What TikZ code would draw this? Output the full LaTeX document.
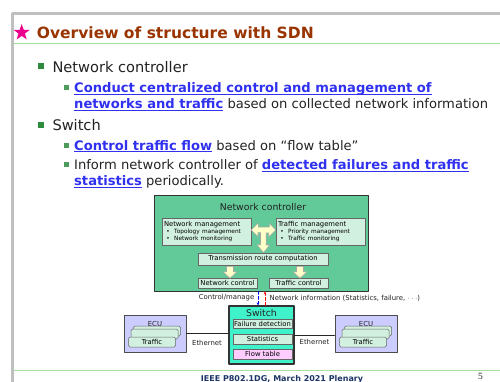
\documentclass[tikz,border=0pt]{standalone}
\usepackage{fontspec}
\setmainfont{DejaVu Sans}
\newfontfamily\pagenumfont{Liberation Serif}
\usepackage{xcolor}
\usetikzlibrary{arrows.meta,positioning,calc,shapes.geometric}
\definecolor{titlebrown}{HTML}{993300}
\definecolor{linkblue}{HTML}{3030F0}
\definecolor{bulletgreen}{HTML}{2E8B3E}
\definecolor{framegray}{HTML}{BFBFBF}
\definecolor{rulegreen}{HTML}{A6DDA0}
\definecolor{ctrlgreen}{HTML}{62CA98}
\definecolor{palegreen}{HTML}{D2F0E0}
\definecolor{switchcyan}{HTML}{40F2CA}
\definecolor{flowpink}{HTML}{FFCCFF}
\definecolor{ecublue}{HTML}{CCCCFF}
\definecolor{fatyellow}{HTML}{FFFFC8}
\definecolor{footnavy}{HTML}{1C3466}
\definecolor{ink}{HTML}{222222}
\newcommand{\lnk}[1]{\textcolor{linkblue}{\bfseries\setbox0\hbox{#1}\rlap{\rule[-2.2pt]{\wd0}{0.9pt}}\box0}}
\tikzset{
    every picture/.style={line cap=round,line join=round},
    l1bullet/.style={fill=bulletgreen,minimum size=6pt,inner sep=0pt},
    l2bullet/.style={fill=bulletgreen!85,minimum size=5pt,inner sep=0pt},
    l1text/.style={anchor=base west,inner sep=0pt,text=ink,
      font=\fontsize{14.6}{17}\selectfont},
    l2text/.style={anchor=base west,inner sep=0pt,text=ink,
      font=\fontsize{13.1}{16}\selectfont},
    ctrlbox/.style={draw=black!80,fill=ctrlgreen,line width=0.8pt,
      minimum width=214pt,minimum height=96pt,inner sep=0pt},
    subbox/.style={draw=black!60,fill=palegreen,line width=0.6pt,
      inner sep=0pt,font=\fontsize{6.8}{7}\selectfont},
    mgmtbox/.style={subbox,minimum width=89pt,minimum height=27pt,
      text width=85pt,align=left},
    swbox/.style={draw=black!80,fill=switchcyan,line width=1.2pt,
      minimum width=65pt,minimum height=58pt,inner sep=0pt},
    ecubox/.style={draw=black!70,fill=ecublue,line width=1pt,
      minimum width=62pt,minimum height=37pt,inner sep=0pt},
    docbox/.style={draw=black!60,fill=palegreen,line width=0.5pt,
      rounded corners=1.5pt,minimum width=47pt,minimum height=10pt,
      inner sep=0pt,font=\fontsize{6.8}{7}\selectfont},
    fatarrow/.style={draw=black!35,fill=fatyellow,line width=0.6pt},
    smalllabel/.style={inner sep=0pt,text=ink,font=\fontsize{6.9}{7}\selectfont},
    downlink/.style={-{Stealth[length=3pt,width=2.6pt]},draw=blue,
      line width=0.7pt,densely dashed},
    uplink/.style={-{Stealth[length=3pt,width=2.6pt]},draw=red,
      line width=0.7pt,densely dashed},
    ethline/.style={draw=black!85,line width=0.9pt},
    pics/fatdown/.style={code={
      \draw[fatarrow] (-3.5,0) -- (3.5,0) -- (3.5,5.5) -- (7,5.5) -- (0,12)
        -- (-7,5.5) -- (-3.5,5.5) -- cycle;}}
}
\begin{document}
\begin{tikzpicture}[x=1pt,y=-1pt]
    \useasboundingbox (0,0) rectangle (500,382);
    \draw[framegray,line width=3pt,line cap=butt] (12.5,382) -- (12.5,13.5) -- (500,13.5);
    \draw[rulegreen,line width=1pt,line cap=butt] (14,43.3) -- (500,43.3);
    \draw[rulegreen,line width=1pt,line cap=butt] (14,370) -- (500,370);
    \node[star,star points=5,star point ratio=2.5,fill=magenta,
      minimum size=17pt,inner sep=0pt] (star) at (21.7,32.5) {};
    \node[anchor=base west,inner sep=0pt,text=titlebrown,
      font=\fontsize{15.5}{18}\selectfont\bfseries] (title) at (36.7,39) {Overview of structure with SDN};
    \node[l1bullet] (b1) at (40.5,66.5) {};
    \node[l1text] (t1) at (52.3,72.5) {Network controller};
    \node[l2bullet] (b11) at (66,87.5) {};
    \node[l2text] (t11a) at (74,92.3) {\lnk{Conduct centralized control and management of}};
    \node[l2text] (t11b) at (74,108.3) {\lnk{networks and traffic} based on collected network information};
    \node[l1bullet] (b2) at (40.5,125) {};
    \node[l1text] (t2) at (52.3,130.7) {Switch};
    \node[l2bullet] (b21) at (66,145.5) {};
    \node[l2text] (t21) at (74,150) {\lnk{Control traffic flow} based on “flow table”};
    \node[l2bullet] (b22) at (66,165) {};
    \node[l2text] (t22a) at (74,170) {Inform network controller of \lnk{detected failures and traffic}};
    \node[l2text] (t22b) at (74,185.5) {\lnk{statistics} periodically.};
    \node[ctrlbox] (nc) at (261,243) {};
    \node[inner sep=0pt,text=ink,font=\fontsize{9.3}{10}\selectfont] (nctitle) at (263,207.5) {Network controller};
    \node[mgmtbox] (nm) at (206.5,231.5) {Network management\\[-0.5pt]
      {\fontsize{5.8}{7.5}\selectfont\ \textbullet\ \ Topology management\\ \ \textbullet\ \ Network monitoring}};
    \node[mgmtbox] (tm) at (320.5,231.5) {Traffic management\\[-0.5pt]
      {\fontsize{5.8}{7.5}\selectfont\ \textbullet\ \ Priority management\\ \ \textbullet\ \ Traffic monitoring}};
    \node[subbox,minimum width=130pt,minimum height=12pt] (trc) at (263,259) {Transmission route computation};
    \node[subbox,minimum width=59pt,minimum height=10pt] (nctl) at (227.5,283) {Network control};
    \node[subbox,minimum width=59pt,minimum height=10pt] (tctl) at (298.5,283) {Traffic control};
    \draw[fatarrow] (nm.east |- 0,230) -- ++(7,-7) -- ++(0,4) -- ++(11,0) -- ++(0,-4)
      -- (tm.west |- 0,230) -- ++(-7,7) -- ++(0,-4) -- ++(-2.5,0) -- ++(0,12)
      -- ++(3.5,0) -- (trc.north -| 263.5,0) -- ++(-6.5,-8) -- ++(3.5,0) -- ++(0,-12)
      -- ++(-2.5,0) -- ++(0,4) -- cycle;
    \pic at ($(trc.south)+(-33,1)$) {fatdown};
    \pic at ($(trc.south)+(37,1)$) {fatdown};
    \node[swbox] (sw) at (261.5,335) {};
    \node[inner sep=0pt,text=ink,font=\fontsize{9.3}{10}\selectfont] (swtitle) at (261.5,313.5) {Switch};
    \node[subbox,minimum width=59pt,minimum height=9pt] (fd) at (262.5,324) {Failure detection};
    \node[subbox,minimum width=59pt,minimum height=10pt] (stat) at (262.5,339) {Statistics};
    \node[subbox,fill=flowpink,minimum width=59pt,minimum height=10pt] (ft) at (262.5,354) {Flow table};
    \draw[downlink] ($(nc.south)+(-3,0)$) -- ($(sw.north)+(-3.5,0)$);
    \draw[uplink] ($(sw.north)+(3.5,0)$) -- ($(nc.south)+(4,0)$);
    \node[smalllabel,anchor=east] (cm) at (254.5,298) {Control/manage};
    \node[smalllabel,anchor=west] (ni) at (269.5,298) {Network information (Statistics, failure, $\cdots$)};
    \node[ecubox] (ecul) at (155,333.5) {};
    \node[smalllabel] (ecultxt) at (155,324) {ECU};
    \node[docbox] (docl3) at (157,331) {};
    \node[docbox] (docl2) at (154.5,334) {};
    \node[docbox] (docl1) at (152,342) {Traffic};
    \node[ecubox] (ecur) at (366,333.5) {};
    \node[smalllabel] (ecurtxt) at (366,324) {ECU};
    \node[docbox] (docr3) at (368,331) {};
    \node[docbox] (docr2) at (365.5,334) {};
    \node[docbox] (docr1) at (363,342) {Traffic};
    \draw[ethline] (ecul.east |- 0,333) -- (sw.west |- 0,333);
    \draw[ethline] (sw.east |- 0,335) -- (ecur.west |- 0,335);
    \node[smalllabel] (ethl) at (207,342.5) {Ethernet};
    \node[smalllabel] (ethr) at (314.5,341.5) {Ethernet};
    \node[anchor=base,inner sep=0pt,text=footnavy,
      font=\fontsize{8}{9}\selectfont\bfseries] (foot) at (282,381.5) {IEEE P802.1DG, March 2021 Plenary};
    \node[anchor=base,inner sep=0pt,text=ink,
      font=\pagenumfont\fontsize{9.5}{10}\selectfont] (pnum) at (480.5,379) {5};
\end{tikzpicture}
\end{document}
